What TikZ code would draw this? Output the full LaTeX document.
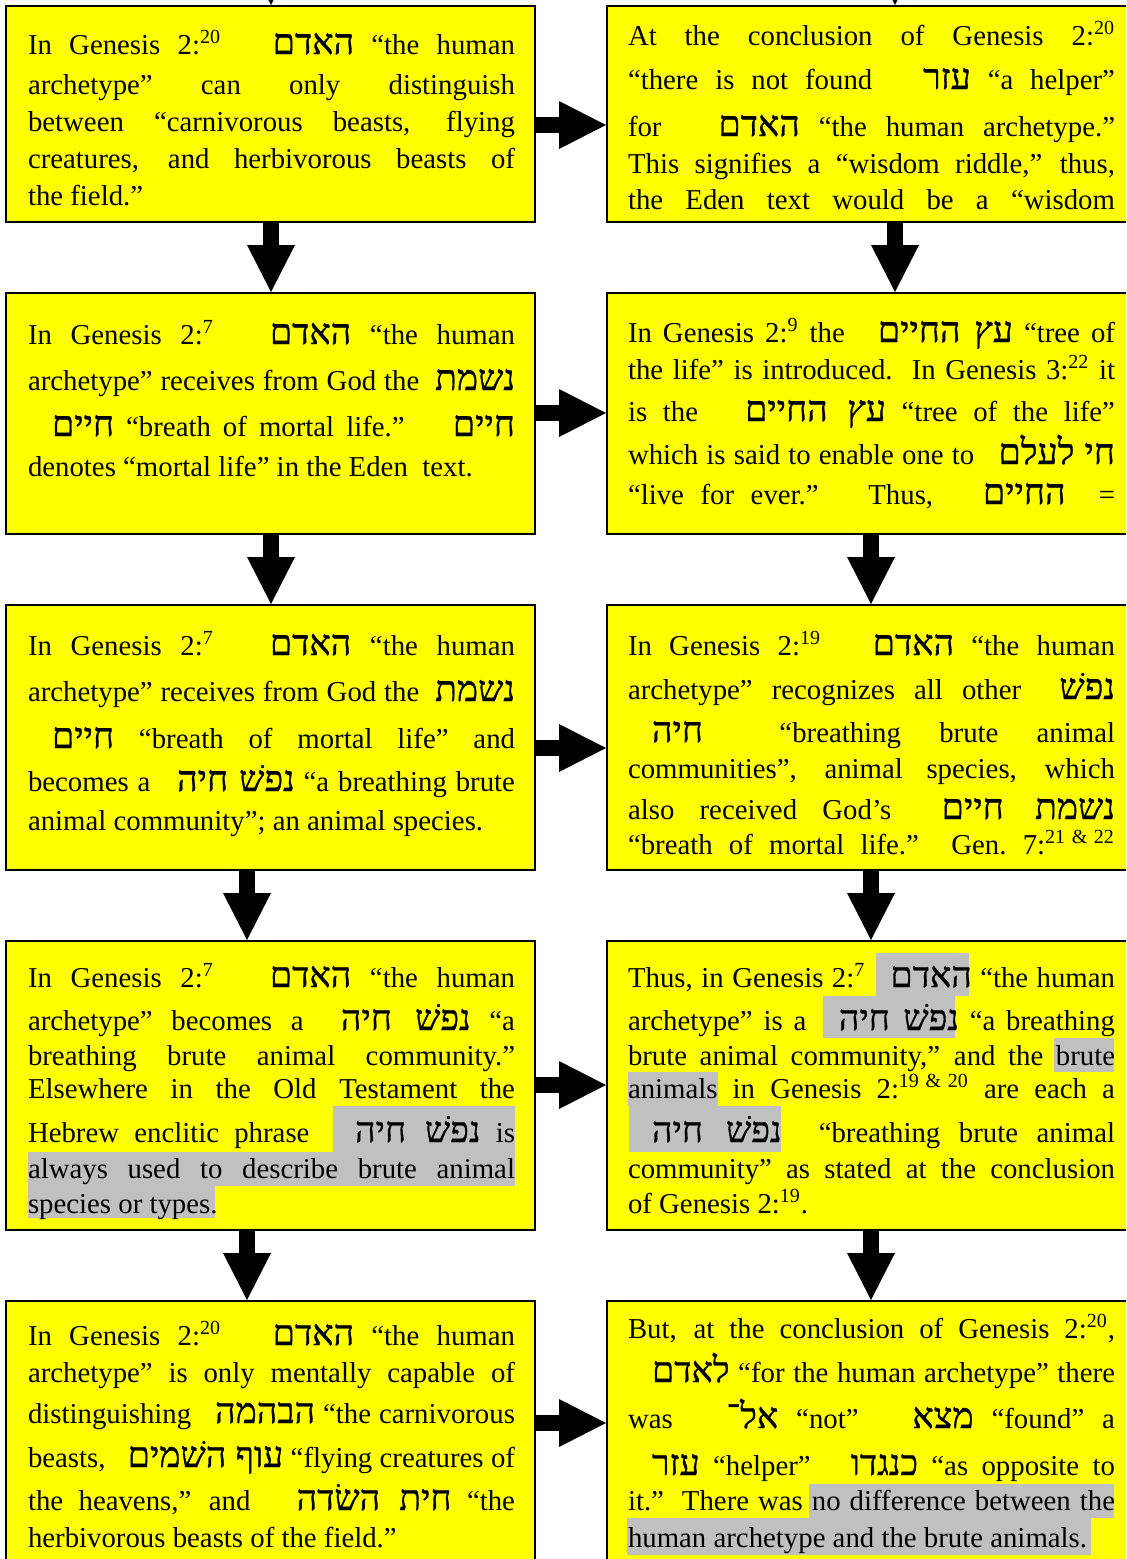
\documentclass[tikz,border=0pt]{standalone}
\usepackage{fontspec}
\setmainfont{Liberation Serif}
\newfontfamily\hebfont[Script=Hebrew,Scale=1.24,FakeBold=0.9]{Liberation Serif}
\TeXXeTstate=1
\usetikzlibrary{arrows.meta,fit}

\definecolor{boxyellow}{RGB}{255,255,0}
\definecolor{hlgray}{RGB}{192,192,192}

% text column width inside each panel
\newlength\tw \setlength\tw{243.5pt}
% Hebrew run, right to left
\newcommand\hb[1]{{\hebfont\beginR#1\endR}}
% justified line
\newcommand\jl[1]{\makebox[\tw][s]{#1}}
% indent before a line that opens with Hebrew
\newcommand\ind{\hspace*{12pt}}
\newcommand\sps[1]{\textsuperscript{#1}}

\tikzset{
  panel/.style={draw=black, line width=1pt, fill=boxyellow, inner sep=0pt},
  txt/.style={anchor=base west, inner sep=0pt, outer sep=0pt,
    font=\fontsize{14.4pt}{17pt}\selectfont},
  blockarrow/.style={line width=8pt,
    -{Triangle[width=24pt,length=23.5pt,line width=0pt]}},
  hl/.style={fill=hlgray}
}

\begin{document}
\begin{tikzpicture}[x=0.5pt,y=-0.5pt]
\useasboundingbox (0,0) rectangle (1126,1559);
\clip (0,0) rectangle (1126,1559);
\fill[white] (0,0) rectangle (1126,1559);

% panels
\node[panel, fit={(6,6) (535,222)}] (L1) {};
\node[panel, fit={(607,6) (1140,222)}] (R1) {};
\node[panel, fit={(6,293) (535,534)}] (L2) {};
\node[panel, fit={(607,293) (1140,534)}] (R2) {};
\node[panel, fit={(6,605) (535,870)}] (L3) {};
\node[panel, fit={(607,605) (1140,870)}] (R3) {};
\node[panel, fit={(6,941) (535,1230)}] (L4) {};
\node[panel, fit={(607,941) (1140,1230)}] (R4) {};
\node[panel, fit={(6,1301) (535,1580)}] (L5) {};
\node[panel, fit={(607,1301) (1140,1580)}] (R5) {};

% highlighted passages
\fill[hl] (333,1106) rectangle (515,1152);
\fill[hl] (28,1152) rectangle (515,1186);
\fill[hl] (28,1186) rectangle (215,1218);
\fill[hl] (876,953) rectangle (969,996);
\fill[hl] (823,996) rectangle (955,1038);
\fill[hl] (1054,1038) rectangle (1114,1072);
\fill[hl] (628,1072) rectangle (718,1106);
\fill[hl] (629,1106) rectangle (781,1152);
\fill[hl] (809,1484) rectangle (1114,1518);
\fill[hl] (627,1518) rectangle (1091,1555);

% arrow columns and rows
\coordinate (cL1) at (271,0);
\coordinate (cL2) at (247,0);
\coordinate (cR1) at (895,0);
\coordinate (cR2) at (871,0);
\coordinate (topL) at (271,-80);
\coordinate (topR) at (895,-80);
\coordinate (h1) at (0,125);
\coordinate (h2) at (0,413);
\coordinate (h3) at (0,748);
\coordinate (h4) at (0,1085);
\coordinate (h5) at (0,1423);

\draw[blockarrow] (topL) -- (L1.north -| cL1);
\draw[blockarrow] (topR) -- (R1.north -| cR1);
\draw[blockarrow] (L1.south -| cL1) -- (L2.north -| cL1);
\draw[blockarrow] (L2.south -| cL1) -- (L3.north -| cL1);
\draw[blockarrow] (L3.south -| cL2) -- (L4.north -| cL2);
\draw[blockarrow] (L4.south -| cL2) -- (L5.north -| cL2);
\draw[blockarrow] (R1.south -| cR1) -- (R2.north -| cR1);
\draw[blockarrow] (R2.south -| cR2) -- (R3.north -| cR2);
\draw[blockarrow] (R3.south -| cR2) -- (R4.north -| cR2);
\draw[blockarrow] (R4.south -| cR2) -- (R5.north -| cR2);
\draw[blockarrow] (L1.east |- h1) -- (R1.west |- h1);
\draw[blockarrow] (L2.east |- h2) -- (R2.west |- h2);
\draw[blockarrow] (L3.east |- h3) -- (R3.west |- h3);
\draw[blockarrow] (L4.east |- h4) -- (R4.west |- h4);
\draw[blockarrow] (L5.east |- h5) -- (R5.west |- h5);

% row 1
\node[txt] (L1a) at (28,54) {\jl{In Genesis 2:\sps{20}\ \ \ \hb{האדם} “the human}};
\node[txt] (L1b) at (28,94) {\jl{archetype” can only distinguish}};
\node[txt] (L1c) at (28,131) {\jl{between “carnivorous beasts, flying}};
\node[txt] (L1d) at (28,168) {\jl{creatures, and herbivorous beasts of}};
\node[txt] (L1e) at (28,205) {the field.”};

\node[txt] (R1a) at (628,45) {\jl{At the conclusion of Genesis 2:\sps{20}}};
\node[txt] (R1b) at (628,89) {\jl{“there is not found\ \ \ \hb{עזר} “a helper”}};
\node[txt] (R1c) at (628,136) {\jl{for\ \ \ \hb{האדם} “the human archetype.”}};
\node[txt] (R1d) at (628,173) {\jl{This signifies a “wisdom riddle,” thus,}};
\node[txt] (R1e) at (628,209) {\jl{the Eden text would be a “wisdom}};

% row 2
\node[txt] (L2a) at (28,344) {\jl{In Genesis 2:\sps{7}\ \ \ \hb{האדם} “the human}};
\node[txt] (L2b) at (28,390) {\jl{archetype” receives from God the\ \ \hb{נשמת}}};
\node[txt] (L2c) at (28,436) {\jl{\ind\hb{חיים} “breath of mortal life.”\ \ \ \ \hb{חיים}}};
\node[txt] (L2d) at (28,476) {denotes “mortal life” in the Eden\ \ text.};

\node[txt] (R2a) at (628,342) {\jl{In Genesis 2:\sps{9} the\ \ \ \hb{עץ החיים} “tree of}};
\node[txt] (R2b) at (628,379) {\jl{the life” is introduced.\ \ In Genesis 3:\sps{22} it}};
\node[txt] (R2c) at (628,421) {\jl{is the\ \ \ \hb{עץ החיים} “tree of the life”}};
\node[txt] (R2d) at (628,464) {\jl{which is said to enable one to\ \ \ \hb{חי לעלם}}};
\node[txt] (R2e) at (628,504) {\jl{“live for ever.”\ \ \ Thus,\ \ \ \hb{החיים}\ \ =}};

% row 3
\node[txt] (L3a) at (28,655) {\jl{In Genesis 2:\sps{7}\ \ \ \hb{האדם} “the human}};
\node[txt] (L3b) at (28,701) {\jl{archetype” receives from God the\ \ \hb{נשמת}}};
\node[txt] (L3c) at (28,748) {\jl{\ind\hb{חיים} “breath of mortal life” and}};
\node[txt] (L3d) at (28,791) {\jl{becomes a\ \ \ \hb{נפשׁ חיה} “a breathing brute}};
\node[txt] (L3e) at (28,830) {animal community”; an animal species.};

\node[txt] (R3a) at (628,655) {\jl{In Genesis 2:\sps{19}\ \ \ \hb{האדם} “the human}};
\node[txt] (R3b) at (628,699) {\jl{archetype” recognizes all other\ \ \hb{נפשׁ}}};
\node[txt] (R3c) at (628,742) {\jl{\ind\hb{חיה}\ \ “breathing brute animal}};
\node[txt] (R3d) at (628,778) {\jl{communities”, animal species, which}};
\node[txt] (R3e) at (628,819) {\jl{also received God’s\ \ \hb{נשמת חיים}}};
\node[txt] (R3f) at (628,854) {\jl{“breath of mortal life.”\ \ Gen.~7:\sps{21\,\,\&\,\,22}}};

% row 4
\node[txt] (L4a) at (28,987) {\jl{In Genesis 2:\sps{7}\ \ \ \hb{האדם} “the human}};
\node[txt] (L4b) at (28,1030) {\jl{archetype” becomes a\ \ \hb{נפשׁ חיה} “a}};
\node[txt] (L4c) at (28,1065) {\jl{breathing brute animal community.”}};
\node[txt] (L4d) at (28,1098) {\jl{Elsewhere in the Old Testament the}};
\node[txt] (L4e) at (28,1142) {\jl{Hebrew enclitic phrase\ \ \ \hb{נפשׁ חיה} is}};
\node[txt] (L4f) at (28,1178) {\jl{always used to describe brute animal}};
\node[txt] (L4g) at (28,1213) {species or types.};

\node[txt] (R4a) at (628,987) {\jl{Thus, in Genesis 2:\sps{7}\ \ \ \hb{האדם} “the human}};
\node[txt] (R4b) at (628,1030) {\jl{archetype” is a\ \ \ \hb{נפשׁ חיה} “a breathing}};
\node[txt] (R4c) at (628,1065) {\jl{brute animal community,” and the brute}};
\node[txt] (R4d) at (628,1098) {\jl{animals in Genesis 2:\sps{19\,\,\&\,\,20} are each a}};
\node[txt] (R4e) at (628,1142) {\jl{\ind\hb{נפשׁ חיה}\ \ “breathing brute animal}};
\node[txt] (R4f) at (628,1178) {\jl{community” as stated at the conclusion}};
\node[txt] (R4g) at (628,1213) {of Genesis 2:\sps{19}.};

% row 5
\node[txt] (L5a) at (28,1345) {\jl{In Genesis 2:\sps{20}\ \ \ \hb{האדם} “the human}};
\node[txt] (L5b) at (28,1382) {\jl{archetype” is only mentally capable of}};
\node[txt] (L5c) at (28,1423) {\jl{distinguishing\ \ \ \hb{הבהמה} “the carnivorous}};
\node[txt] (L5d) at (28,1467) {\jl{beasts,\ \ \ \hb{עוף השׁמים} “flying creatures of}};
\node[txt] (L5e) at (28,1510) {\jl{the heavens,” and\ \ \ \hb{חית השׂדה} “the}};
\node[txt] (L5f) at (28,1547) {herbivorous beasts of the field.”};

\node[txt] (R5a) at (628,1338) {\jl{But, at the conclusion of Genesis 2:\sps{20},}};
\node[txt] (R5b) at (628,1382) {\jl{\ind\hb{לאדם} “for the human archetype” there}};
\node[txt] (R5c) at (628,1428) {\jl{was\ \ \ \hb{אל־} “not”\ \ \ \hb{מצא} “found” a}};
\node[txt] (R5d) at (628,1475) {\jl{\ind\hb{עזר} “helper”\ \ \ \hb{כנגדו} “as opposite to}};
\node[txt] (R5e) at (628,1510) {\jl{it.”\ \ There was no difference between the}};
\node[txt] (R5f) at (628,1547) {human archetype and the brute animals.};
\end{tikzpicture}
\end{document}
